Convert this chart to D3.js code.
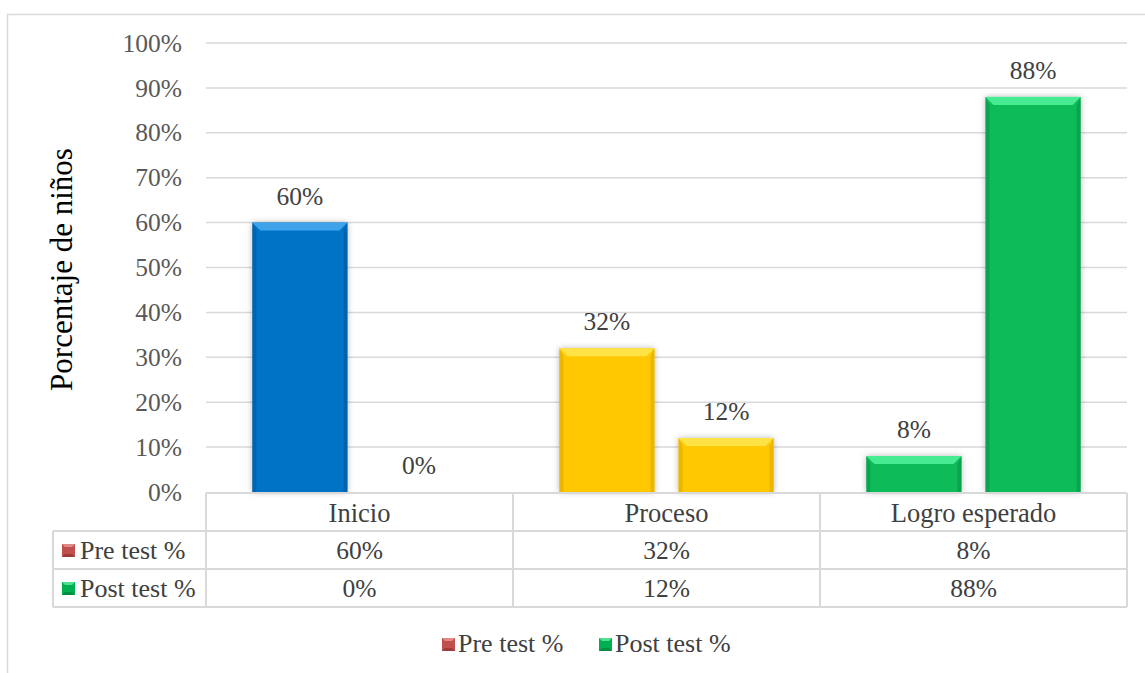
<!DOCTYPE html>
<html>
<head>
<meta charset="utf-8">
<script src="https://cdn.jsdelivr.net/npm/d3@7"></script>
<style>
  html, body { margin: 0; padding: 0; background: #ffffff; }
  svg { display: block; }
</style>
</head>
<body>
<script>
// Chart data
const categories = ["Inicio", "Proceso", "Logro esperado"];
const seriesNames = ["Pre test %", "Post test %"];
const preTest = [0.60, 0.32, 0.08];
const postTest = [0.00, 0.12, 0.88];
const yTicks = [0, 0.1, 0.2, 0.3, 0.4, 0.5, 0.6, 0.7, 0.8, 0.9, 1.0];

// Bar fill per category (top highlight, body, dark edge) and legend colours per series
const categoryColors = [
  { body: "#0673C6", light: "#3FA3EC", dark: "#04569A" },
  { body: "#FFC800", light: "#FFE246", dark: "#D9A800" },
  { body: "#0BBB58", light: "#47EB92", dark: "#07924A" }
];
const seriesColors = [
  { body: "#C0504D", light: "#E08A88", dark: "#8E3330" },
  { body: "#00B050", light: "#4FE08F", dark: "#00803A" }
];

const SERIF = "'Liberation Serif', 'Times New Roman', Times, serif";
const W = 1145, H = 673;
const plot = { left: 206, right: 1127, top: 43, bottom: 492 };
const rowH = 38;
const tableLeft = 53;
const pct = d3.format(".0%");

const svg = d3.select("body").append("svg")
  .attr("width", W).attr("height", H)
  .style("font-family", SERIF);
const defs = svg.append("defs");

// Soft grey shadow around the bars
const f = defs.append("filter").attr("id", "barShadow")
  .attr("x", "-20%").attr("y", "-20%").attr("width", "140%").attr("height", "140%");
f.append("feGaussianBlur").attr("in", "SourceAlpha").attr("stdDeviation", 3).attr("result", "blur");
f.append("feFlood").attr("flood-color", "#000").attr("flood-opacity", 0.28).attr("result", "col");
f.append("feComposite").attr("in", "col").attr("in2", "blur").attr("operator", "in").attr("result", "shadow");
const fm = f.append("feMerge");
fm.append("feMergeNode").attr("in", "shadow");
fm.append("feMergeNode").attr("in", "SourceGraphic");

// Outer chart frame (continues past the right and bottom edges)
svg.append("path")
  .attr("d", `M7.5,${H}V14.5H${W}`)
  .attr("fill", "none").attr("stroke", "#D9D9D9").attr("stroke-width", 1.5);

// Scales
const y = d3.scaleLinear().domain([0, 1]).range([plot.bottom, plot.top]);
const x0 = d3.scaleBand().domain(categories).range([plot.left, plot.right]).padding(0);
const x1 = d3.scaleBand().domain(seriesNames).range([0, x0.bandwidth()])
  .paddingInner(0.2017).paddingOuter(0.389);

function serifText(sel, size, color) {
  return sel.style("font-family", SERIF).style("font-size", size + "px").attr("fill", color);
}

// Gridlines
svg.append("g").selectAll("line").data(yTicks.filter(t => t > 0)).join("line")
  .attr("x1", plot.left).attr("x2", plot.right)
  .attr("y1", d => y(d)).attr("y2", d => y(d))
  .attr("stroke", "#D9D9D9").attr("stroke-width", 1.5);

// Y axis tick labels
const yAxis = d3.axisLeft(y).tickValues(yTicks).tickFormat(pct).tickSize(0).tickPadding(24);
const gy = svg.append("g").attr("transform", `translate(${plot.left},0)`).call(yAxis);
gy.attr("font-family", null).attr("font-size", null);
gy.select(".domain").remove();
serifText(gy.selectAll("text"), 25.5, "#595959");

// Y axis title
serifText(svg.append("text"), 31, "#000")
  .attr("transform", `translate(72,${(plot.top + plot.bottom) / 2 + 2}) rotate(-90)`)
  .attr("text-anchor", "middle")
  .text("Porcentaje de niños");

// Bars
const barData = [];
categories.forEach((c, i) => {
  [preTest[i], postTest[i]].forEach((v, s) => {
    barData.push({ cat: c, ci: i, series: seriesNames[s], value: v });
  });
});

const bars = svg.append("g").selectAll("g").data(barData).join("g")
  .attr("transform", d => `translate(${x0(d.cat) + x1(d.series)},0)`);

bars.each(function (d) {
  const g = d3.select(this);
  const w = x1.bandwidth();
  const top = y(d.value), h = y(0) - y(d.value);
  if (h <= 0) return;
  const col = categoryColors[d.ci];
  const b = Math.min(8, h / 2);
  const e = 4;
  g.append("rect").attr("x", 0).attr("y", top).attr("width", w).attr("height", h)
    .attr("fill", col.body).attr("filter", "url(#barShadow)");
  // darker side edges
  g.append("path").attr("d", `M0,${top}L${e},${top + b}V${y(0)}H0Z`).attr("fill", col.dark).attr("opacity", 0.55);
  g.append("path").attr("d", `M${w},${top}L${w - e},${top + b}V${y(0)}H${w}Z`).attr("fill", col.dark).attr("opacity", 0.55);
  // light top bevel
  g.append("path").attr("d", `M0,${top}H${w}L${w - b},${top + b}H${b}Z`).attr("fill", col.light);
});

// Value labels above bars
serifText(svg.append("g").selectAll("text").data(barData).join("text"), 25.5, "#404040")
  .attr("x", d => x0(d.cat) + x1(d.series) + x1.bandwidth() / 2)
  .attr("y", d => y(d.value) - 18)
  .attr("text-anchor", "middle")
  .text(d => pct(d.value));

// Data table below the plot
const tbl = svg.append("g").attr("stroke", "#D9D9D9").attr("stroke-width", 2).attr("fill", "none");
const rowsY = [plot.bottom + 1, plot.bottom + 1 + rowH, plot.bottom + 1 + 2 * rowH, plot.bottom + 1 + 3 * rowH];
tbl.append("line").attr("x1", plot.left).attr("x2", plot.right).attr("y1", rowsY[0]).attr("y2", rowsY[0]);
[1, 2, 3].forEach(r => {
  tbl.append("line").attr("x1", tableLeft).attr("x2", plot.right).attr("y1", rowsY[r]).attr("y2", rowsY[r]);
});
tbl.append("line").attr("x1", tableLeft).attr("x2", tableLeft).attr("y1", rowsY[1]).attr("y2", rowsY[3]);
const colEdges = categories.map(c => x0(c)).concat([plot.right]);
colEdges.forEach(cx => {
  tbl.append("line").attr("x1", cx).attr("x2", cx).attr("y1", rowsY[0]).attr("y2", rowsY[3]);
});

// Category header row
serifText(svg.append("g").selectAll("text").data(categories).join("text"), 26.5, "#404040")
  .attr("x", d => x0(d) + x0.bandwidth() / 2)
  .attr("y", rowsY[0] + rowH / 2 + 9.5)
  .attr("text-anchor", "middle")
  .text(d => d);

// Value rows
const tableRows = [preTest, postTest];
tableRows.forEach((vals, r) => {
  const cy = rowsY[r + 1] + rowH / 2;
  serifText(svg.append("g").selectAll("text").data(vals).join("text"), 25.5, "#404040")
    .attr("x", (d, i) => x0(categories[i]) + x0.bandwidth() / 2)
    .attr("y", cy + 8.5)
    .attr("text-anchor", "middle")
    .text(d => pct(d));
});

// Bevelled legend key
function legendKey(g, x, yTop, col) {
  const s = 13;
  g.append("rect").attr("x", x).attr("y", yTop).attr("width", s).attr("height", s).attr("fill", col.body);
  g.append("path").attr("d", `M${x},${yTop}H${x + s}L${x + s - 3},${yTop + 3}H${x + 3}Z`).attr("fill", col.light);
  g.append("path").attr("d", `M${x},${yTop + s}H${x + s}L${x + s - 3},${yTop + s - 3}H${x + 3}Z`).attr("fill", col.dark).attr("opacity", 0.7);
}

// Row headers with keys
seriesNames.forEach((name, r) => {
  const cy = rowsY[r + 1] + rowH / 2;
  const g = svg.append("g");
  legendKey(g, 62, cy - 6, seriesColors[r]);
  serifText(g.append("text"), 26, "#404040").attr("x", 80).attr("y", cy + 8.5).text(name);
});

// Bottom legend
const legendX = [442, 599];
seriesNames.forEach((name, r) => {
  const g = svg.append("g");
  legendKey(g, legendX[r], 638, seriesColors[r]);
  serifText(g.append("text"), 26, "#404040").attr("x", legendX[r] + 16).attr("y", 652).text(name);
});
</script>
</body>
</html>
